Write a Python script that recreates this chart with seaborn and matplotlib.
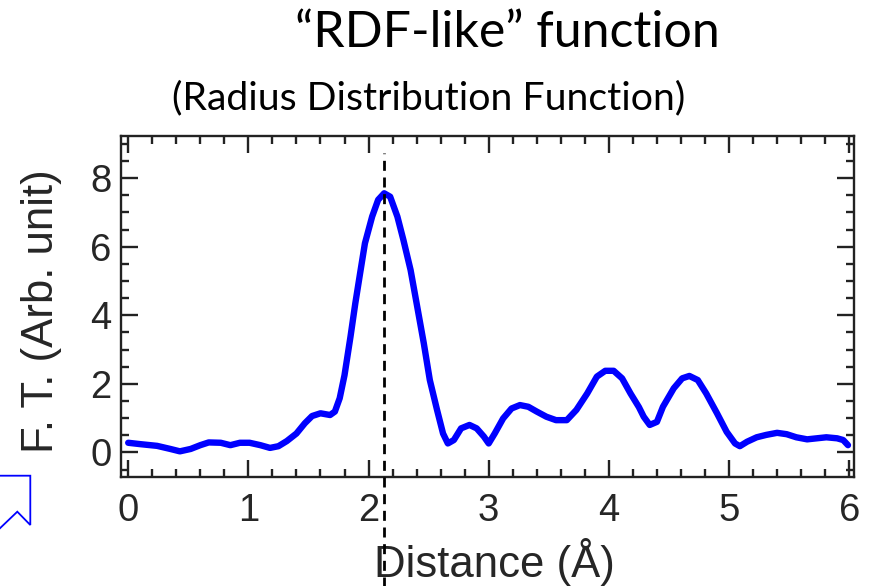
import numpy as np
import pandas as pd
import matplotlib
matplotlib.use("Agg")
import matplotlib.pyplot as plt
from matplotlib.lines import Line2D
from matplotlib.ticker import MultipleLocator
import seaborn as sns

# Fourier-transformed EXAFS magnitude vs. radial distance
distance = [0.0, 0.1, 0.24, 0.35, 0.43, 0.52, 0.6, 0.67, 0.77, 0.85, 0.93, 1.01,
            1.1, 1.18, 1.25, 1.32, 1.4, 1.47, 1.53, 1.6, 1.68, 1.72, 1.76, 1.8,
            1.85, 1.89, 1.93, 1.97, 2.03, 2.08, 2.13, 2.18, 2.24, 2.29, 2.35, 2.4,
            2.46, 2.51, 2.57, 2.62, 2.66, 2.71, 2.77, 2.84, 2.9, 2.96, 3.0, 3.05,
            3.12, 3.19, 3.26, 3.33, 3.4, 3.48, 3.56, 3.65, 3.73, 3.82, 3.9, 3.97,
            4.04, 4.11, 4.18, 4.25, 4.29, 4.34, 4.4, 4.45, 4.54, 4.61, 4.67, 4.74,
            4.81, 4.9, 4.98, 5.05, 5.09, 5.15, 5.23, 5.31, 5.4, 5.48, 5.56, 5.65,
            5.73, 5.81, 5.9, 5.95, 5.99]
ft = [0.28, 0.24, 0.19, 0.1, 0.03, 0.1, 0.21, 0.29, 0.28, 0.21, 0.28, 0.28,
      0.21, 0.13, 0.18, 0.33, 0.55, 0.85, 1.06, 1.14, 1.09, 1.19, 1.58, 2.25,
      3.38, 4.35, 5.23, 6.10, 6.88, 7.37, 7.56, 7.46, 6.88, 6.20, 5.32, 4.35,
      3.18, 2.11, 1.24, 0.55, 0.26, 0.36, 0.70, 0.80, 0.70, 0.46, 0.26, 0.55,
      0.99, 1.28, 1.38, 1.33, 1.19, 1.04, 0.94, 0.94, 1.24, 1.72, 2.21, 2.38,
      2.38, 2.16, 1.72, 1.32, 1.04, 0.80, 0.89, 1.33, 1.87, 2.16, 2.23, 2.11,
      1.72, 1.14, 0.60, 0.26, 0.18, 0.31, 0.44, 0.51, 0.57, 0.53, 0.44, 0.38,
      0.41, 0.44, 0.41, 0.36, 0.21]
first_shell = 2.13

x_ticks = [0, 1, 2, 3, 4, 5, 6]
y_ticks = [0, 2, 4, 6, 8]

title = "\u201cRDF-like\u201d function"
subtitle = "(Radius Distribution Function)"
xlabel = "Distance (\u00c5)"
ylabel = "F. T. (Arb. unit)"

df = pd.DataFrame({"distance": distance, "ft": ft})

sns.set_style("ticks")
plt.rcParams["font.family"] = ["Liberation Sans", "DejaVu Sans"]

W, H = 882, 586
fig = plt.figure(figsize=(W / 100, H / 100), dpi=100)
ax = fig.add_axes([121 / W, 1 - 476.7 / H, 733 / W, 341 / H])

sns.lineplot(data=df, x="distance", y="ft", ax=ax, color="#0000ff",
             linewidth=4.6, solid_joinstyle="round", solid_capstyle="round")

ax.axvline(first_shell, ymin=-0.33, ymax=0.95, color="black", linewidth=2.0,
           linestyle=(0, (3.6, 2.4)), clip_on=False, zorder=3)

ax.set_xlim(-0.06, 6.04)
ax.set_ylim(-0.71, 9.24)
ax.set_xticks(x_ticks)
ax.set_yticks(y_ticks)
ax.set_xticklabels([str(v) for v in x_ticks])
ax.set_yticklabels([str(v) for v in y_ticks])
ax.xaxis.set_minor_locator(MultipleLocator(0.2))
ax.yaxis.set_minor_locator(MultipleLocator(0.5))

ax.tick_params(which="both", direction="in", top=True, right=True,
               color="#222222", width=1.7)
ax.tick_params(which="major", length=12.5, labelsize=27.5, labelcolor="#262626")
ax.tick_params(which="minor", length=6)
ax.tick_params(axis="x", which="major", pad=12)
ax.tick_params(axis="y", which="major", pad=7)
for s in ax.spines.values():
    s.set_linewidth(1.7)
    s.set_color("#222222")

ax.set_xlabel(xlabel, fontsize=31.5, color="#262626", va="center")
ax.xaxis.set_label_coords(0.509, -0.25)
ax.set_ylabel(ylabel, fontsize=31.5, color="#262626", va="center")
ax.yaxis.set_label_coords(-0.108, 0.486)

fig.text(507 / W, 1 - 33 / H, title, fontsize=36, family=["Lato", "DejaVu Sans"],
         ha="center", va="center", color="black")
fig.text(429 / W, 1 - 98 / H, subtitle, fontsize=28.3, family=["Lato", "DejaVu Sans"],
         ha="center", va="center", color="black")

# callout arrow outline at the lower-left edge
px = np.array([-10, 30.3, 30.3, 17.3, -5])
py = np.array([475.7, 475.7, 525, 511.7, 533])
fig.add_artist(Line2D(px / W, 1 - py / H, transform=fig.transFigure,
                      color="#0000ff", linewidth=1.3, solid_joinstyle="miter"))

fig.savefig("out.png", dpi=100)
